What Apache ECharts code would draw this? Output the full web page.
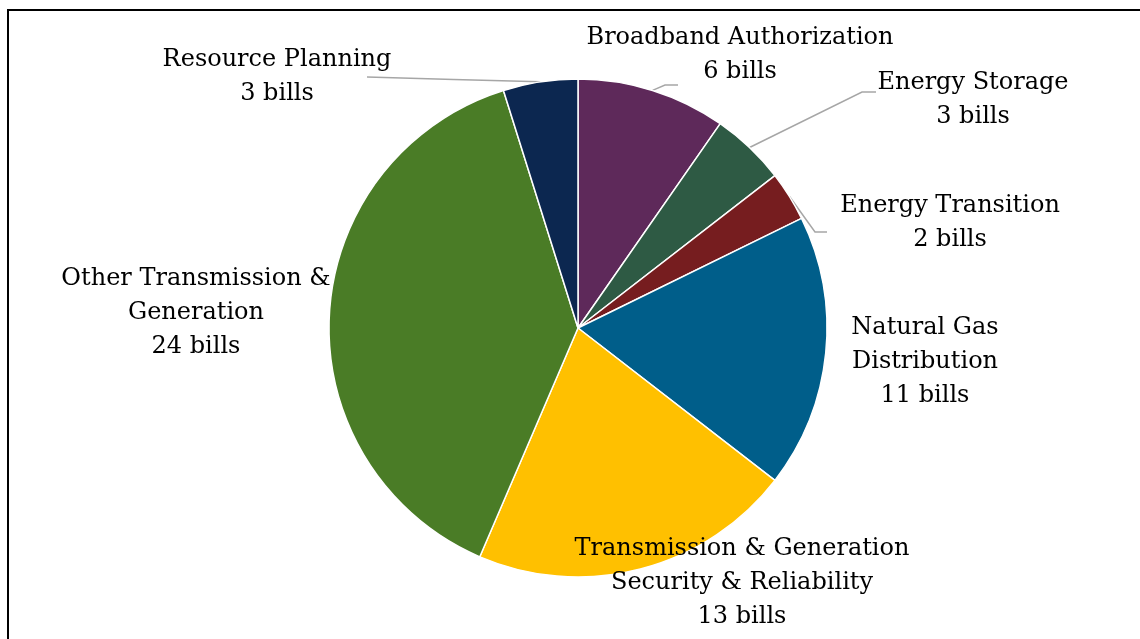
<!DOCTYPE html>
<html>
<head>
<meta charset="utf-8">
<style>
  html, body { margin: 0; padding: 0; background: #ffffff; }
  #chart { width: 1140px; height: 639px; }
</style>
<script src="https://cdn.jsdelivr.net/npm/echarts@6/dist/echarts.min.js"></script>
</head>
<body>
<div id="chart"></div>
<script>
// Bill counts by topic, clockwise from 12 o'clock
const categories = [
  'Broadband Authorization',
  'Energy Storage',
  'Energy Transition',
  'Natural Gas\nDistribution',
  'Transmission & Generation\nSecurity & Reliability',
  'Other Transmission &\nGeneration',
  'Resource Planning'
];
const billCounts = [6, 3, 2, 11, 13, 24, 3];
const sliceColors = ['#5E295A', '#2E5A44', '#761D1F', '#005E8A', '#FFC000', '#4A7C26', '#0C2750'];

// Label placement: centre of each text block, plus the leader-line elbow and end (null = no leader line)
const labelCenters = [[740, 55], [973, 100], [950, 223], [925, 362], [742, 583], [196, 313], [277, 77]];
const leaderElbows = [[665, 85], [862, 92], [815, 232], null, null, null, null];
const leaderEnds = [[678, 85], [876, 92], [827, 232], null, null, null, [367, 77]];

const chart = echarts.init(document.getElementById('chart'), null, { renderer: 'canvas' });

const data = categories.map((name, i) => ({
  name: name,
  value: billCounts[i],
  itemStyle: { color: sliceColors[i] },
  labelLine: { show: leaderEnds[i] !== null }
}));

chart.setOption({
  animation: false,
  backgroundColor: '#ffffff',
  graphic: [{
    type: 'rect',
    shape: { x: 8, y: 10, width: 1200, height: 700 },
    style: { fill: 'none', stroke: '#000000', lineWidth: 2 },
    silent: true,
    z: 0
  }],
  series: [{
    type: 'pie',
    center: [578, 328],
    radius: 249,
    startAngle: 90,
    clockwise: true,
    avoidLabelOverlap: false,
    itemStyle: { borderColor: '#ffffff', borderWidth: 1.5 },
    label: {
      show: true,
      position: 'outside',
      formatter: p => p.name + '\n' + p.value + ' bills',
      fontFamily: 'DejaVu Serif',
      fontSize: 24,
      lineHeight: 34,
      color: '#000000',
      align: 'center'
    },
    labelLine: {
      show: true,
      lineStyle: { color: '#A6A6A6', width: 1.5 }
    },
    labelLayout: function (params) {
      const i = params.dataIndex;
      const c = labelCenters[i];
      const out = { x: c[0], y: c[1], align: 'center', verticalAlign: 'middle' };
      if (leaderEnds[i] && params.labelLinePoints) {
        const start = params.labelLinePoints[0];
        const pts = [start];
        if (leaderElbows[i]) pts.push(leaderElbows[i]);
        pts.push(leaderEnds[i]);
        if (pts.length === 2) pts.splice(1, 0, [(start[0] + leaderEnds[i][0]) / 2, (start[1] + leaderEnds[i][1]) / 2]);
        out.labelLinePoints = pts;
      }
      return out;
    },
    data: data
  }]
});
</script>
</body>
</html>
